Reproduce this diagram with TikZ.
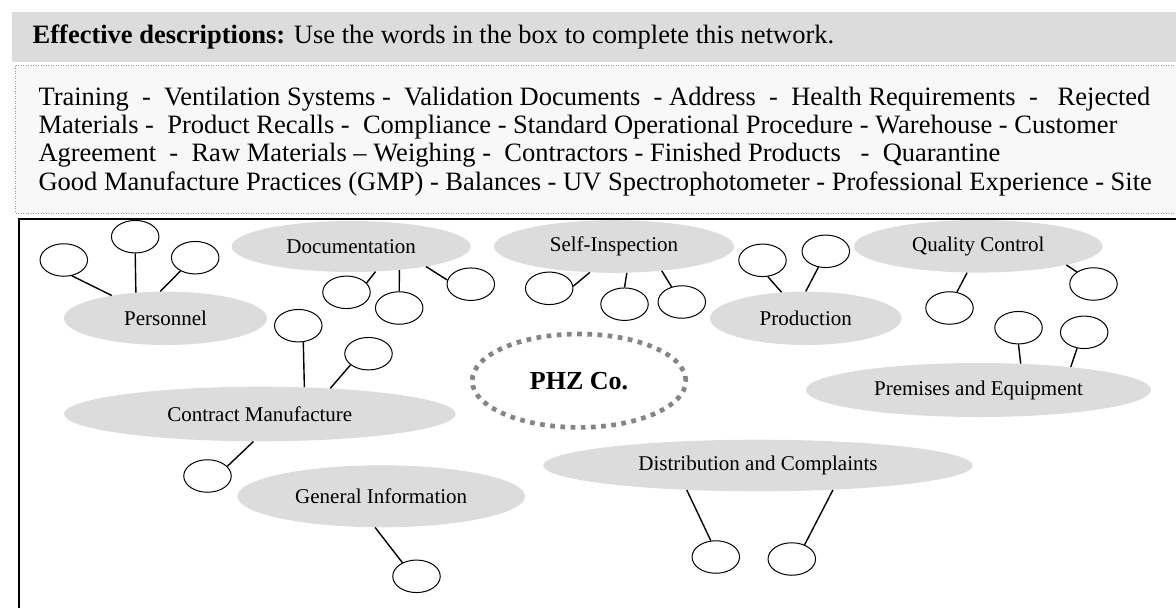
\documentclass[tikz,border=0pt]{standalone}
\usepackage{fontspec}
\setmainfont{Liberation Serif}
\usetikzlibrary{shapes.geometric}
\definecolor{ellfill}{HTML}{DCDCDC}
\definecolor{barfill}{HTML}{DCDCDC}
\definecolor{boxfill}{HTML}{F8F8F8}
\definecolor{dotgray}{HTML}{9A9A9A}
\definecolor{phzgray}{HTML}{858585}
\begin{document}
\begin{tikzpicture}[x=1pt,y=-1pt,
  topic/.style={ellipse, fill=ellfill, inner sep=0pt, font=\fontsize{21}{24}\selectfont},
  blank/.style={ellipse, draw=black, line width=1pt, fill=white, minimum width=47.5pt, minimum height=32.5pt, inner sep=0pt},
  link/.style={line width=1.4pt},
  boxtext/.style={anchor=base west, inner sep=0pt, font=\fontsize{26.5}{28}\selectfont}]
\useasboundingbox (0,0) rectangle (1176,608);
\begin{scope}
\clip (0,0) rectangle (1176,608);
% header bar
\fill[barfill] (11.5,12.3) rectangle (1185,61.7);
\node[boxtext] (head) at (32.5,43.3) {\textbf{Effective descriptions:} Use the words in the box to complete this network.};
% word box
\filldraw[fill=boxfill, draw=dotgray, line width=1pt, dash pattern=on 1pt off 1.5pt] (15.5,65.7) rectangle (1190,213);
\node[boxtext] (w1) at (38.3,105) {Training~ -~ Ventilation Systems -~ Validation Documents~ - Address~ -~ Health Requirements~ -~~ Rejected};
\node[boxtext] (w2) at (38.3,133.3) {Materials -~ Product Recalls -~ Compliance - Standard Operational Procedure - Warehouse - Customer};
\node[boxtext] (w3) at (38.3,161.7) {Agreement~ -~ Raw Materials – Weighing -~ Contractors - Finished Products~~ -~ Quarantine};
\node[boxtext] (w4) at (38.3,190) {Good Manufacture Practices (GMP) - Balances - UV Spectrophotometer - Professional Experience - Site};
% topics
\node[topic, minimum width=203pt, minimum height=53.4pt] (pers) at (165.5,318.3) {Personnel};
\node[topic, minimum width=239pt, minimum height=51pt] (doc) at (351.2,246.5) {Documentation};
\node[topic, minimum width=240pt, minimum height=52.6pt] (self) at (614,246.5) {Self-Inspection};
\node[topic, minimum width=191.6pt, minimum height=53.4pt] (prod) at (805.8,318.3) {Production};
\node[topic, minimum width=248.6pt, minimum height=52.6pt] (qc) at (978.3,246.3) {Quality Control};
\node[topic, minimum width=345pt, minimum height=54pt] (prem) at (978.5,390) {Premises and Equipment};
\node[topic, minimum width=391.6pt, minimum height=54.6pt] (cm) at (259.8,414) {Contract Manufacture};
\node[topic, minimum width=287.6pt, minimum height=62pt] (gi) at (381.2,496.3) {General Information};
\node[topic, minimum width=429.4pt, minimum height=51.6pt] (dist) at (758,465.5) {Distribution and Complaints};
% centre
\node[ellipse, draw=phzgray, line width=4.7pt, dash pattern=on 4.7pt off 5.5pt, minimum width=213.6pt, minimum height=93.4pt, inner sep=0pt, font=\fontsize{26}{28}\selectfont\bfseries] (phz) at (579,380.7) {PHZ Co.};
% blanks
\node[blank] (p1) at (63.8,260) {};
\node[blank] (p2) at (135.2,236.7) {};
\node[blank] (p3) at (195.2,257.7) {};
\node[blank] (d1) at (346.5,292.3) {};
\node[blank] (d2) at (399.2,308) {};
\node[blank] (d3) at (470.8,284.2) {};
\node[blank] (s1) at (549.2,288.3) {};
\node[blank] (s2) at (624.5,304.2) {};
\node[blank] (s3) at (681.8,302) {};
\node[blank] (r1) at (762.5,260.3) {};
\node[blank] (r2) at (825.8,251.3) {};
\node[blank] (q1) at (949.5,308) {};
\node[blank] (q2) at (1093.5,284) {};
\node[blank] (e1) at (1018.5,327.7) {};
\node[blank] (e2) at (1084.2,332.3) {};
\node[blank] (c1) at (298.3,325.7) {};
\node[blank] (c2) at (368.5,353.7) {};
\node[blank] (c3) at (207.5,476) {};
\node[blank] (g1) at (416.5,576.3) {};
\node[blank] (t1) at (715.8,557) {};
\node[blank] (t2) at (791.8,559) {};
% connectors
\draw[link] (p1.-63.8) -- (pers.157.2);
\draw[link] (p2.-90) -- (pers.139.8);
\draw[link] (p3.-138.8) -- (pers.101.7);
\draw[link] (d1.25.4) -- (doc.-46.4);
\draw[link] (d2.90) -- (doc.-26.05);
\draw[link] (d3.170.1) -- (doc.-15.75);
\draw[link] (s1.5.6) -- (self.-133);
\draw[link] (s2.90) -- (self.-64.1);
\draw[link] (s3.124.7) -- (self.-27.8);
\draw[link] (r1.-72.4) -- (prod.133);
\draw[link] (r2.-115.5) -- (prod.90);
\draw[link] (q1.65.3) -- (qc.-113.3);
\draw[link] (q2.144.9) -- (qc.-12.6);
\draw[link] (e1.-90) -- (prem.32.7);
\draw[link] (e2.-114.2) -- (prem.14.5);
\draw[link] (c1.-73.3) -- (cm.31.5);
\draw[link] (c2.-148.6) -- (cm.20.8);
\draw[link] (c3.26.7) -- (cm.-103.4);
\draw[link] (g1.136.5) -- (gi.-101.3);
\draw[link] (t1.107) -- (dist.-161.35);
\draw[link] (t2.48.3) -- (dist.-18);
% frame
\draw[line width=1.7pt] (19.3,620) -- (19.3,219.3) -- (1190,219.3);
\end{scope}
\end{tikzpicture}
\end{document}
